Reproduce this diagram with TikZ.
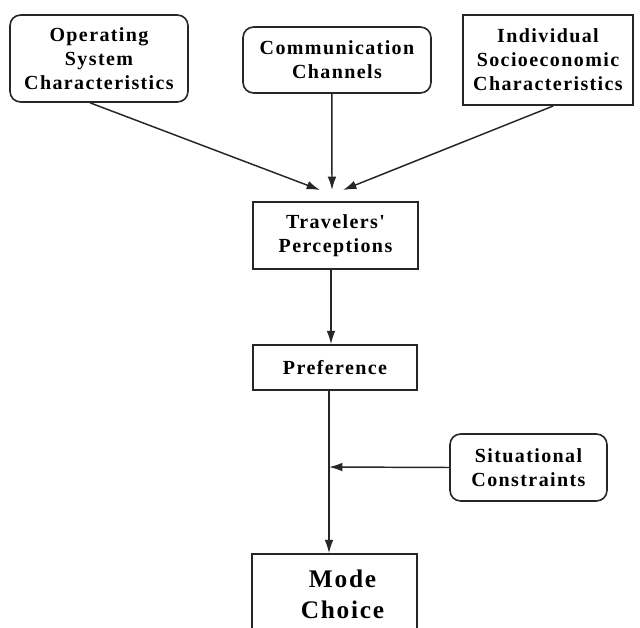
\documentclass[tikz,border=0pt]{standalone}
\usepackage{fontspec}
\setmainfont{Liberation Serif}[LetterSpace=7,Ligatures=TeXOff]
\usetikzlibrary{arrows.meta,calc}
\begin{document}
\begin{tikzpicture}[x=0.75pt,y=-0.75pt,
  box/.style={draw=black!85,line width=1.2pt,inner sep=0pt,align=center,
    font=\fontsize{15}{18}\selectfont\bfseries},
  rbox/.style={box,rounded corners=8pt},
  conn/.style={draw=black!85,line width=1.1pt,-{Latex[length=10pt,width=6.5pt]}}]
\useasboundingbox[fill=white] (0,0) rectangle (640,628);
\node[rbox,minimum width=133.5pt,minimum height=65.25pt] (op) at (99,58.5) {Operating\\System\\Characteristics};
\node[rbox,minimum width=141pt,minimum height=49.5pt] (comm) at (337,60) {Communication\\Channels};
\node[box,line width=1.5pt,minimum width=127.5pt,minimum height=67.5pt] (ind) at (548,60) {Individual\\Socioeconomic\\Characteristics};
\node[box,minimum width=123.75pt,minimum height=50.25pt] (trav) at (335.5,235.5) {Travelers'\\Perceptions};
\node[box,minimum width=123pt,minimum height=33.75pt] (pref) at (335,367.5) {Preference};
\node[rbox,minimum width=117.75pt,minimum height=50.25pt] (sit) at (528.5,467.5) {Situational\\Constraints};
\node[box,minimum width=123.75pt,minimum height=60pt,font=\fontsize{19}{23}\selectfont\bfseries] (mode) at (334.5,594) {\hspace*{12pt}Mode\\\hspace*{12pt}Choice};
\coordinate (tipL) at (320,190);
\coordinate (tipC) at (332,190);
\coordinate (tipR) at (343,190);
\coordinate (join) at (329,467);
\draw[conn] ($(op.south west)!0.45!(op.south east)$) -- (tipL);
\draw[conn] ($(comm.south west)!0.473!(comm.south east)$) -- (tipC);
\draw[conn] ($(ind.south west)!0.53!(ind.south east)$) -- (tipR);
\coordinate (t1) at ($(trav.south west)!0.473!(trav.south east)$);
\draw[conn] (t1) -- (t1 |- pref.north);
\coordinate (p1) at (join |- pref.south);
\draw[conn] (p1) -- (join |- mode.north);
\draw[conn] (sit.west) -- (join);
\end{tikzpicture}
\end{document}
